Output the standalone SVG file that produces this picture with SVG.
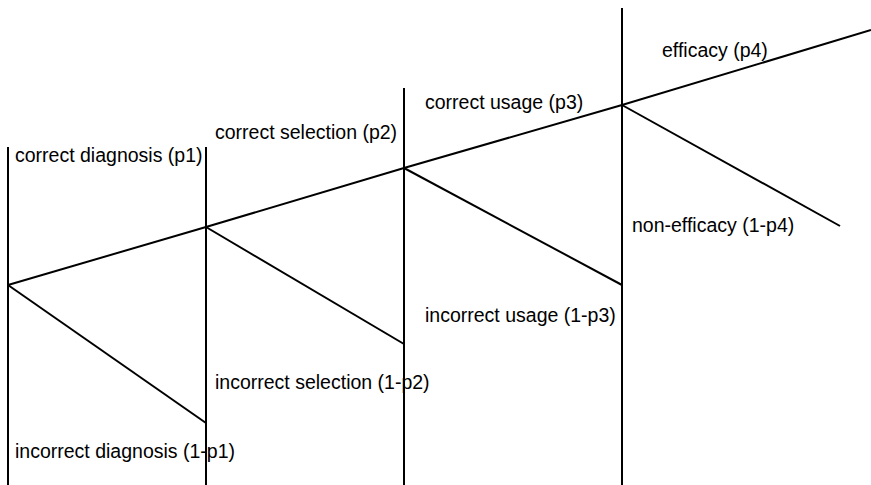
<svg xmlns="http://www.w3.org/2000/svg" width="871" height="485" viewBox="0 0 871 485">
  <style>
    .ln { stroke: #000; stroke-width: 2; fill: none; stroke-linecap: butt; }
    .lbl { font-family: "Liberation Sans", Arial, sans-serif; font-size: 19.5px; fill: #000; }
  </style>
  <rect width="871" height="485" fill="#fff"/>

  <!-- stage dividers -->
  <g id="stages">
    <line class="ln" x1="8" y1="147" x2="8" y2="485"/>
    <line class="ln" x1="206" y1="147" x2="206" y2="485"/>
    <line class="ln" x1="404" y1="88" x2="404" y2="485"/>
    <line class="ln" x1="622" y1="8" x2="622" y2="485"/>
  </g>

  <!-- decision branches -->
  <g id="connectors">
    <polyline class="ln" points="8,285 206,227 404,168 622,105 871,30"/>
    <line class="ln" x1="8" y1="285" x2="206" y2="423"/>
    <line class="ln" x1="206" y1="227" x2="404" y2="344"/>
    <line class="ln" x1="404" y1="168" x2="622" y2="285"/>
    <line class="ln" x1="622" y1="105" x2="840" y2="226"/>
  </g>

  <g id="diagnosis">
    <text class="lbl" x="15" y="162">correct diagnosis (p1)</text>
    <text class="lbl" x="15" y="458">incorrect diagnosis (1-p1)</text>
  </g>
  <g id="selection">
    <text class="lbl" x="215" y="139">correct selection (p2)</text>
    <text class="lbl" x="215" y="389">incorrect selection (1-p2)</text>
  </g>
  <g id="usage">
    <text class="lbl" x="425" y="109">correct usage (p3)</text>
    <text class="lbl" x="425" y="322">incorrect usage (1-p3)</text>
  </g>
  <g id="efficacy">
    <text class="lbl" x="662" y="57">efficacy (p4)</text>
    <text class="lbl" x="632" y="232">non-efficacy (1-p4)</text>
  </g>
</svg>
